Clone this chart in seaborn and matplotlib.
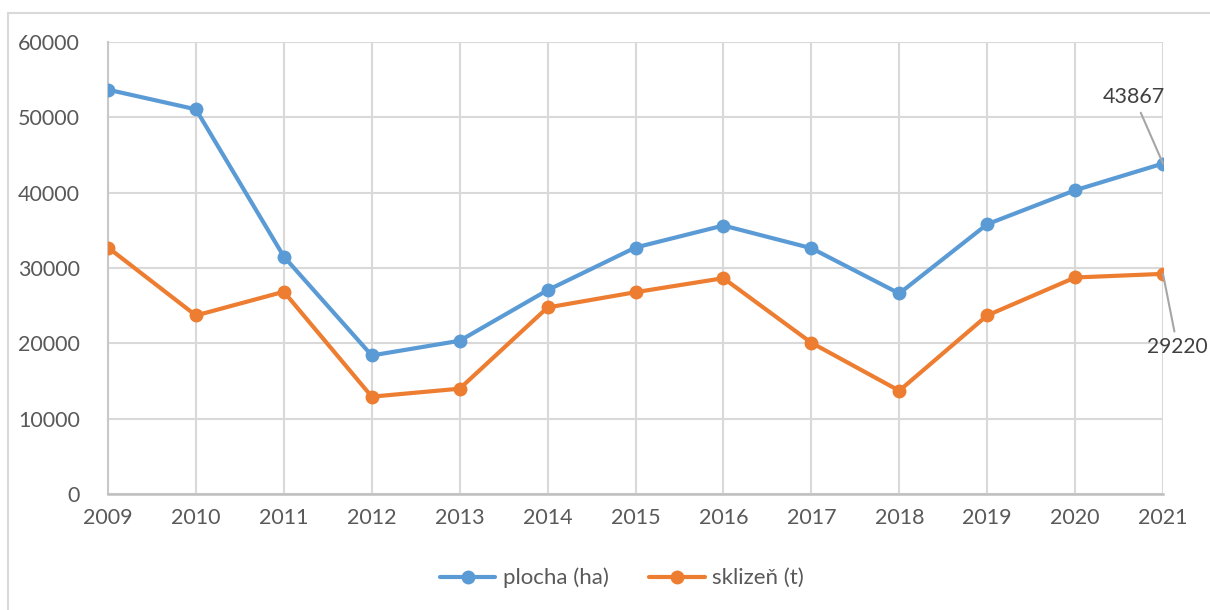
import matplotlib
matplotlib.use("Agg")
import matplotlib.pyplot as plt
from matplotlib.lines import Line2D
import seaborn as sns
import pandas as pd

years = [2009, 2010, 2011, 2012, 2013, 2014, 2015, 2016, 2017, 2018, 2019, 2020, 2021]
plocha = [53670, 51060, 31520, 18390, 20340, 27060, 32720, 35640, 32630, 26620, 35810, 40320, 43867]
sklizen = [32720, 23700, 26850, 12920, 13980, 24760, 26790, 28650, 20080, 13710, 23700, 28740, 29220]
series_names = ["plocha (ha)", "sklizeň (t)"]
colors = ["#5B9BD5", "#ED7D31"]
yticks = [0, 10000, 20000, 30000, 40000, 50000, 60000]

df = pd.DataFrame({
    "rok": years * 2,
    "hodnota": plocha + sklizen,
    "serie": [series_names[0]] * len(years) + [series_names[1]] * len(years),
})

sns.set_theme(style="white")
plt.rcParams["font.family"] = ["Lato", "DejaVu Sans"]
text_color = "#595959"
grid_color = "#D9D9D9"

fig = plt.figure(figsize=(12.1, 6.1), dpi=100)
ax = fig.add_axes([108 / 1210, 1 - 494 / 610, (1163 - 108) / 1210, (494 - 42) / 610])

sns.lineplot(data=df, x="rok", y="hodnota", hue="serie", palette=colors,
             marker="o", markersize=10, markeredgewidth=0, linewidth=3.0,
             ax=ax, legend=False, zorder=3)

ax.set_xlim(years[0], years[-1])
ax.set_ylim(0, 60000)
ax.set_xticks(years)
ax.set_xticklabels([str(y) for y in years])
ax.set_yticks(yticks)
ax.set_yticklabels([str(v) for v in yticks])
ax.set_xlabel("")
ax.set_ylabel("")
ax.grid(True, color=grid_color, linewidth=1.5, zorder=0)
ax.set_axisbelow(True)
for side in ["top", "right"]:
    ax.spines[side].set_visible(False)
ax.spines["left"].set_color("#C8C8C8")
ax.spines["left"].set_linewidth(1.5)
ax.spines["bottom"].set_color("#BFBFBF")
ax.spines["bottom"].set_linewidth(1.8)
ax.tick_params(axis="both", length=0, labelsize=15.5, colors=text_color)
ax.tick_params(axis="y", pad=20)
ax.tick_params(axis="x", pad=10)

# data labels for last point
ax.annotate(str(plocha[-1]), xy=(years[-1], plocha[-1]), xytext=(-21, 48),
            textcoords="offset points", ha="center", va="center",
            fontsize=15.5, color="#404040",
            arrowprops=dict(arrowstyle="-", color="#A6A6A6", lw=1.5, shrinkA=2, shrinkB=0))
ax.annotate(str(sklizen[-1]), xy=(years[-1], sklizen[-1]), xytext=(10.5, -53),
            textcoords="offset points", ha="center", va="center",
            fontsize=15, color="#404040",
            arrowprops=dict(arrowstyle="-", color="#A6A6A6", lw=1.5, shrinkA=2, shrinkB=0),
            annotation_clip=False)

handles = [Line2D([0], [0], color=c, linewidth=3.0, marker="o", markersize=10,
                  markeredgewidth=0) for c in colors]
leg = fig.legend(handles, series_names, loc="center", bbox_to_anchor=(622 / 1210, 1 - 578 / 610),
                 ncol=2, frameon=False, fontsize=16, handlelength=2.5, columnspacing=1.8,
                 handletextpad=0.35)
for t in leg.get_texts():
    t.set_color(text_color)

# outer chart border (top and left visible)
fig.add_artist(Line2D([8 / 1210, 1.0], [1 - 13 / 610, 1 - 13 / 610], transform=fig.transFigure,
                      color="#D9D9D9", linewidth=1.5))
fig.add_artist(Line2D([8 / 1210, 8 / 1210], [1 - 13 / 610, 0.0], transform=fig.transFigure,
                      color="#D9D9D9", linewidth=1.5))

fig.savefig("out.png", dpi=100, facecolor="white")
